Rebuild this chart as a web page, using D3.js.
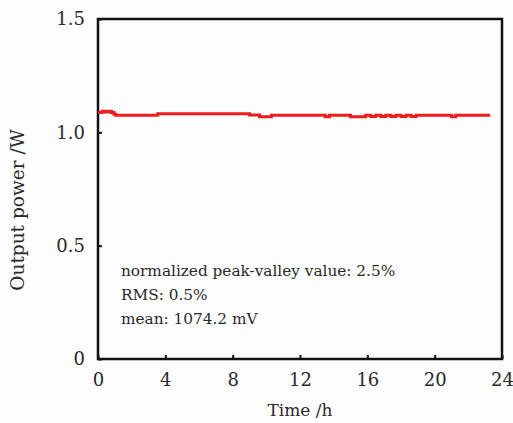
<!DOCTYPE html>
<html lang="en">
<head>
<meta charset="UTF-8">
<title>Output power vs time</title>
<script src="https://d3js.org/d3.v7.min.js"></script>
<style>
  body { margin: 0; background: #fdfdfd; }
  svg text { font-family: "DejaVu Serif", serif; fill: #2a2a2a; }
</style>
</head>
<body>
<div id="chart"></div>
<script>
// data (step changes of the power trace)
const timeHours = [0, 0.25, 0.45, 0.65, 0.8, 0.95, 1.05, 3.55, 9.0, 9.6, 10.3, 13.5, 13.75, 15.0, 15.9,
                   16.2, 16.5, 16.8, 17.1, 17.4, 17.7, 18.0, 18.3, 18.6, 18.9, 19.0, 21.0, 21.25, 23.3];
const powerW = [1.088, 1.093, 1.09, 1.093, 1.088, 1.08, 1.075, 1.082, 1.076, 1.069, 1.075, 1.069, 1.075, 1.069, 1.075,
                1.07, 1.075, 1.07, 1.075, 1.07, 1.075, 1.07, 1.075, 1.07, 1.075, 1.075, 1.069, 1.075, 1.075];
const xTicks = [0, 4, 8, 12, 16, 20, 24];
const yTicks = [0, 0.5, 1.0, 1.5];
const notes = ["normalized peak-valley value: 2.5%", "RMS: 0.5%", "mean: 1074.2 mV"];

const width = 513, height = 423;
const margin = { top: 19, right: 11, bottom: 64, left: 98 };
const w = width - margin.left - margin.right;
const h = height - margin.top - margin.bottom;

const svg = d3.select("#chart").append("svg")
    .attr("width", width)
    .attr("height", height);

const g = svg.append("g")
    .attr("transform", `translate(${margin.left},${margin.top})`);

const x = d3.scaleLinear().domain([0, 24]).range([0, w]);
const y = d3.scaleLinear().domain([0, 1.5]).range([h, 0]);

// axes with inward ticks
const xAxis = g.append("g")
    .attr("transform", `translate(0,${h})`)
    .call(d3.axisBottom(x).tickValues(xTicks).tickSizeInner(-4).tickSizeOuter(0).tickPadding(14));
const yAxis = g.append("g")
    .call(d3.axisLeft(y).tickValues(yTicks).tickSizeInner(-4).tickSizeOuter(0).tickPadding(13)
        .tickFormat(d => d === 0 ? "0" : d3.format(".1f")(d)));

[xAxis, yAxis].forEach(a => {
    a.select(".domain").remove();
    a.selectAll("line").attr("stroke", "#111").attr("stroke-width", 2);
    a.selectAll("text").style("font-size", "18px").attr("fill", "#2a2a2a");
});

// frame
g.append("rect")
    .attr("width", w)
    .attr("height", h)
    .attr("fill", "none")
    .attr("stroke", "#111")
    .attr("stroke-width", 2.5);

// power trace
const line = d3.line()
    .x((d, i) => x(timeHours[i]))
    .y(d => y(d))
    .curve(d3.curveStepAfter);

g.append("path")
    .datum(powerW)
    .attr("fill", "none")
    .attr("stroke", "#ee1c1c")
    .attr("stroke-width", 3)
    .attr("d", line);

// annotation
g.append("text")
    .attr("x", 23)
    .attr("y", 257)
    .style("font-size", "15.3px")
    .selectAll("tspan")
    .data(notes)
    .enter().append("tspan")
    .attr("x", 23)
    .attr("dy", (d, i) => i === 0 ? 0 : 24)
    .text(d => d);

// axis titles
svg.append("text")
    .attr("x", margin.left + w / 2)
    .attr("y", 416)
    .attr("text-anchor", "middle")
    .style("font-size", "17px")
    .text("Time /h");

svg.append("text")
    .attr("transform", `translate(24,${margin.top + h / 2 + 21}) rotate(-90)`)
    .attr("text-anchor", "middle")
    .style("font-size", "18.5px")
    .text("Output power /W");
</script>
</body>
</html>
